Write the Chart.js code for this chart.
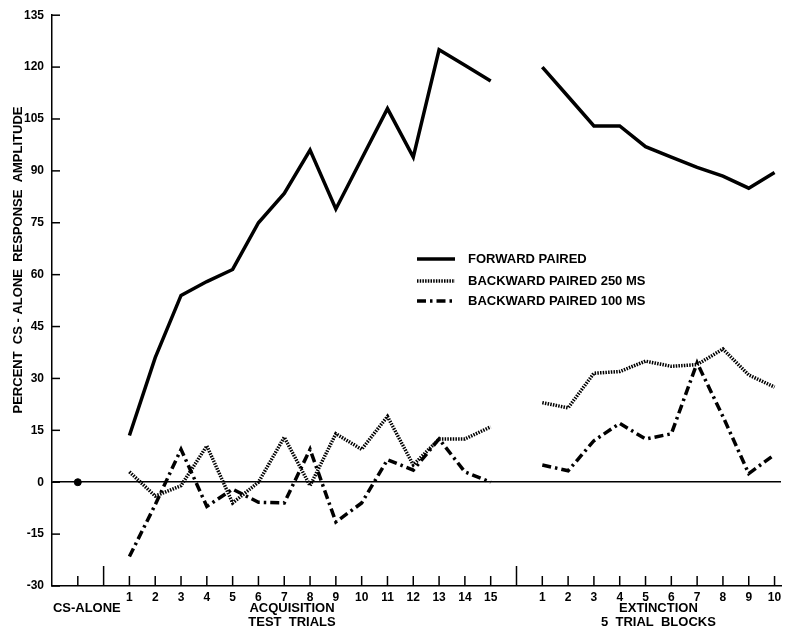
<!DOCTYPE html>
<html lang="en">
<head>
  <meta charset="UTF-8" />
  <title>Percent CS-alone response amplitude</title>
  <script src="https://cdn.jsdelivr.net/npm/chart.js"></script>
  <style>
    body { margin: 0; background: #fff; }
    #wrap { width: 786px; height: 631px; }
  </style>
</head>
<body>
  <div id="wrap"><canvas id="grafico" width="786" height="631"></canvas></div>

  <script>
    // trials / blocks
    const acqTrials = [1, 2, 3, 4, 5, 6, 7, 8, 9, 10, 11, 12, 13, 14, 15];
    const extBlocks = [1, 2, 3, 4, 5, 6, 7, 8, 9, 10];

    // series values (percent of CS-alone amplitude)
    const csAlone = [0];
    const forwardAcq = [13.5, 36, 54, 58, 61.5, 75, 83.5, 96, 79, 93.5, 108, 94, 125, 120.5, 116];
    const forwardExt = [120, 111.5, 103, 103, 97, 94, 91, 88.5, 85, 89.5];
    const back250Acq = [3, -4, -1, 10.5, -6, 0, 13, -1, 14, 9.5, 19, 5, 12.5, 12.5, 16];
    const back250Ext = [23, 21.5, 31.5, 32, 35, 33.5, 34, 38.5, 31, 27.5];
    const back100Acq = [-21.5, -6.5, 9.5, -7, -2, -5.8, -6, 9.5, -11.5, -6, 6.5, 3.5, 12.5, 3, 0];
    const back100Ext = [5, 3.3, 12, 17, 12.5, 14, 34.5, 19, 2.5, 8];

    const seriesNames = ["FORWARD PAIRED", "BACKWARD PAIRED 250 MS", "BACKWARD PAIRED 100 MS"];

    // x axis slots: 1 = CS-alone, 3..17 = acquisition, 19..28 = extinction
    const CS_POS = 1, ACQ_OFFSET = 2, EXT_OFFSET = 18;
    const xTickLabels = ["", "", ""].concat(acqTrials.map(String), [""], extBlocks.map(String));
    const yTicks = [-30, -15, 0, 15, 30, 45, 60, 75, 90, 105, 120, 135];

    function serie(acq, ext) {
      const pts = acq.map((v, i) => ({ x: acqTrials[i] + ACQ_OFFSET, y: v }));
      pts.push({ x: EXT_OFFSET, y: null });
      ext.forEach((v, i) => pts.push({ x: extBlocks[i] + EXT_OFFSET, y: v }));
      return pts;
    }

    const FONT = "'Liberation Sans', Arial, sans-serif";
    Chart.defaults.font.family = FONT;
    Chart.defaults.font.weight = "bold";
    Chart.defaults.color = "#000";

    const decoracion = {
      id: "decoracion",
      afterDraw(chart) {
        const { ctx, chartArea } = chart;
        const xs = chart.scales.x, ys = chart.scales.y;
        ctx.save();
        ctx.strokeStyle = "#000";
        ctx.lineWidth = 1.5;
        // y ticks pointing inward
        yTicks.forEach(v => {
          const y = ys.getPixelForValue(v);
          ctx.beginPath(); ctx.moveTo(chartArea.left, y); ctx.lineTo(chartArea.left + 8, y); ctx.stroke();
        });
        // x ticks pointing up, tall ones split the sections
        for (let p = 1; p < xTickLabels.length; p++) {
          const x = xs.getPixelForValue(p);
          const h = (p === ACQ_OFFSET || p === EXT_OFFSET) ? 20 : 10;
          ctx.beginPath(); ctx.moveTo(x, chartArea.bottom); ctx.lineTo(x, chartArea.bottom - h); ctx.stroke();
        }
        // y title
        ctx.fillStyle = "#000";
        ctx.font = "bold 13px " + FONT;
        ctx.textAlign = "center";
        ctx.textBaseline = "middle";
        ctx.save();
        ctx.translate(18, 260);
        ctx.rotate(-Math.PI / 2);
        ctx.fillText("PERCENT  CS - ALONE  RESPONSE  AMPLITUDE", 0, 0);
        ctx.restore();
        // section labels
        ctx.fillText("CS-ALONE", xs.getPixelForValue(1.35), 608);
        ctx.fillText("ACQUISITION", xs.getPixelForValue(9.3), 608);
        ctx.fillText("TEST  TRIALS", xs.getPixelForValue(9.3), 622);
        ctx.fillText("EXTINCTION", xs.getPixelForValue(23.5), 608);
        ctx.fillText("5  TRIAL  BLOCKS", xs.getPixelForValue(23.5), 622);
        // legend
        ctx.textAlign = "left";
        const filas = [259, 281, 301];
        seriesNames.forEach((nombre, i) => {
          const ds = chart.data.datasets[i];
          ctx.lineWidth = ds.borderWidth;
          ctx.setLineDash(ds.borderDash || []);
          ctx.beginPath(); ctx.moveTo(417, filas[i]); ctx.lineTo(455, filas[i]); ctx.stroke();
          ctx.setLineDash([]);
          ctx.fillText(nombre, 468, filas[i]);
        });
        ctx.restore();
      }
    };

    new Chart(document.getElementById("grafico"), {
      type: "line",
      data: {
        datasets: [
          { label: seriesNames[0], data: serie(forwardAcq, forwardExt), borderColor: "#000", borderWidth: 3.5 },
          { label: seriesNames[1], data: serie(back250Acq, back250Ext), borderColor: "#000", borderWidth: 3.5, borderDash: [1.5, 1.2] },
          { label: seriesNames[2], data: serie(back100Acq, back100Ext), borderColor: "#000", borderWidth: 3.5, borderDash: [9, 4, 2.5, 4] },
          { label: "CS-ALONE", data: csAlone.map(v => ({ x: CS_POS, y: v })), showLine: false,
            pointRadius: 3.5, pointBackgroundColor: "#000", pointBorderColor: "#000" }
        ]
      },
      options: {
        responsive: false,
        animation: false,
        devicePixelRatio: 1,
        spanGaps: false,
        elements: { line: { tension: 0, borderCapStyle: "butt" }, point: { radius: 0 } },
        layout: { padding: { top: 14, right: 0, left: 0, bottom: 0 } },
        plugins: { legend: { display: false }, tooltip: { enabled: false } },
        scales: {
          x: {
            type: "linear", min: 0, max: 28.25,
            grid: { display: true, color: "transparent", drawTicks: false },
            border: { display: true, color: "#000", width: 1.5 },
            afterBuildTicks: s => { s.ticks = xTickLabels.map((t, i) => ({ value: i })); },
            ticks: {
              autoSkip: false, maxRotation: 0, padding: 4,
              font: { size: 12 },
              callback: v => xTickLabels[v] || ""
            },
            afterFit: s => { s.height = 45; s.paddingRight = 0; }
          },
          y: {
            min: -30, max: 135,
            grid: { drawTicks: false, color: c => c.tick.value === 0 ? "#000" : "transparent", lineWidth: 1.5 },
            border: { display: true, color: "#000", width: 1.5 },
            ticks: { stepSize: 15, padding: 8, font: { size: 12 } },
            afterFit: s => { s.width = 52; }
          }
        }
      },
      plugins: [decoracion]
    });
  </script>
</body>
</html>
